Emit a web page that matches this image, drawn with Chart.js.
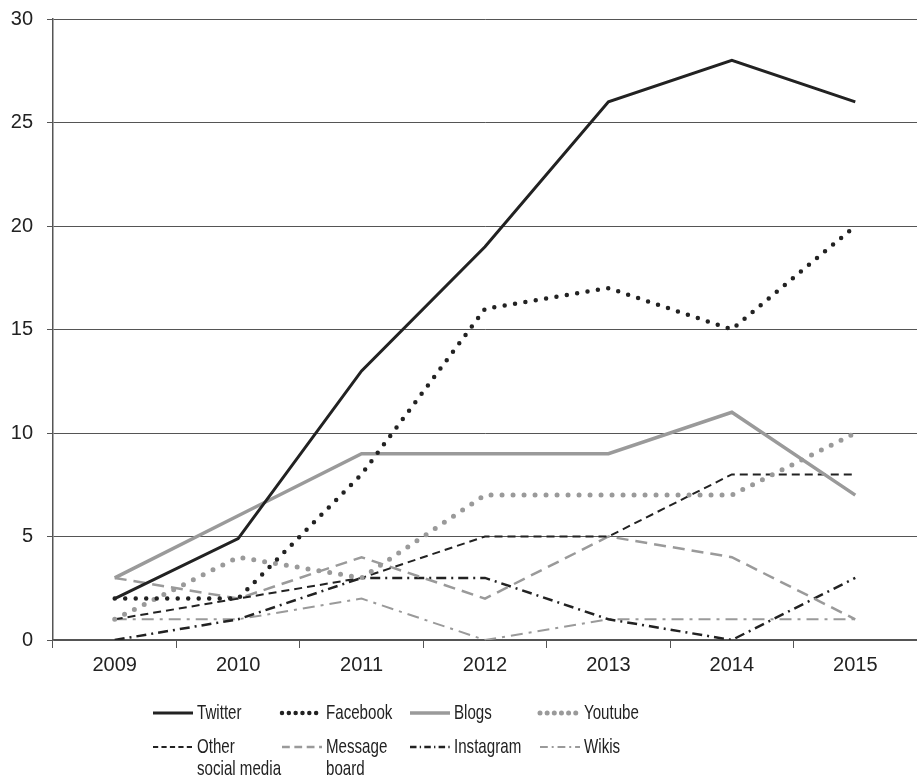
<!DOCTYPE html>
<html>
<head>
<meta charset="utf-8">
<script src="https://cdn.jsdelivr.net/npm/chart.js@4.4.1/dist/chart.umd.min.js"></script>
<style>
	html, body { margin: 0; padding: 0; background: #fff; }
	#wrap { position: relative; width: 917px; height: 779px; }
</style>
</head>
<body>
<div id="wrap"><canvas id="trendChart"></canvas></div>
<script>
	const years = ['2009', '2010', '2011', '2012', '2013', '2014', '2015'];
	const twitter = [2, 4.9, 13, 19, 26, 28, 26];
	const facebook = [2, 2, 8, 16, 17, 15, 20];
	const blogs = [3, 6, 9, 9, 9, 11, 7];
	const youtube = [1, 4, 3, 7, 7, 7, 10];
	const otherSocial = [1, 2, 3, 5, 5, 8, 8];
	const messageBoard = [3, 2, 4, 2, 5, 4, 1];
	const instagram = [0, 1, 3, 3, 1, 0, 3];
	const wikis = [1, 1, 2, 0, 1, 1, 1];
	const yTicks = [0, 5, 10, 15, 20, 25, 30];

	const dark = '#222222';
	const grey = '#9a9a9a';
	const axisGrey = '#555555';
	const fontFamily = '"Liberation Sans", Arial, sans-serif';

	function series(label, data, color, width, dash, cap) {
		return {
			label: label,
			data: data,
			borderColor: color,
			backgroundColor: color,
			borderWidth: width,
			borderDash: dash,
			borderCapStyle: cap || 'butt',
			pointRadius: 0,
			pointHoverRadius: 0,
			tension: 0,
			fill: false
		};
	}

	const datasets = [
		series('Twitter', twitter, dark, 3, []),
		series('Facebook', facebook, dark, 4.5, [0, 10.5], 'round'),
		series('Blogs', blogs, grey, 3.5, []),
		series('Youtube', youtube, grey, 5, [0, 11], 'round'),
		series('Other\nsocial media', otherSocial, dark, 2, [8, 5]),
		series('Message\nboard', messageBoard, grey, 2.5, [12, 7]),
		series('Instagram', instagram, dark, 2.5, [10, 5, 2, 5]),
		series('Wikis', wikis, grey, 2, [12, 6, 3, 6])
	];

	// legend drawn under the axis, 4 columns x 2 rows
	const legendColumns = [153, 282, 410, 540];
	const legendRows = [713, 747];

	const bottomLegend = {
		id: 'bottomLegend',
		afterDraw(chart) {
			const ctx = chart.ctx;
			ctx.save();
			chart.data.datasets.forEach((ds, i) => {
				const x = legendColumns[i % 4];
				const y = legendRows[Math.floor(i / 4)];
				ctx.beginPath();
				ctx.strokeStyle = ds.borderColor;
				ctx.lineWidth = ds.borderWidth;
				ctx.lineCap = ds.borderCapStyle;
				ctx.setLineDash(ds.borderDash.length ? ds.borderDash.map((v) => v * 0.65) : []);
				ctx.moveTo(x, y);
				ctx.lineTo(x + 40, y);
				ctx.stroke();
				ctx.setLineDash([]);
				// condensed text, like the original's narrow face
				ctx.save();
				ctx.translate(x + 44, y);
				ctx.scale(0.72, 1);
				ctx.fillStyle = dark;
				ctx.font = '21px ' + fontFamily;
				ctx.textBaseline = 'middle';
				ctx.textAlign = 'left';
				ds.label.split('\n').forEach((line, n) => {
					ctx.fillText(line, 0, n * 22);
				});
				ctx.restore();
			});
			ctx.restore();
		}
	};

	new Chart(document.getElementById('trendChart'), {
		type: 'line',
		data: { labels: years, datasets: datasets },
		plugins: [bottomLegend],
		options: {
			responsive: true,
			maintainAspectRatio: false,
			animation: false,
			layout: { padding: { top: 19, right: 0, left: 0, bottom: 0 } },
			plugins: {
				legend: { display: false },
				tooltip: { enabled: false }
			},
			scales: {
				x: {
					offset: true,
					afterFit: (scale) => {
						scale.height = 139;
						scale.paddingLeft = 0;
						scale.paddingRight = 0;
					},
					grid: {
						offset: true,
						drawOnChartArea: false,
						drawTicks: true,
						tickLength: 8,
						color: axisGrey,
						lineWidth: 1
					},
					border: { color: axisGrey, width: 1.5 },
					ticks: {
						color: dark,
						padding: 5,
						font: { family: fontFamily, size: 20 }
					}
				},
				y: {
					min: 0,
					max: 30,
					afterFit: (scale) => {
						scale.width = 53;
						scale.paddingTop = 0;
						scale.paddingBottom = 0;
					},
					afterBuildTicks: (scale) => { scale.ticks = yTicks.map((v) => ({ value: v })); },
					grid: {
						color: axisGrey,
						lineWidth: 1,
						drawTicks: true,
						tickLength: 6
					},
					border: { color: axisGrey, width: 1.5 },
					ticks: {
						color: dark,
						padding: 14,
						font: { family: fontFamily, size: 20 }
					}
				}
			}
		}
	});
</script>
</body>
</html>
